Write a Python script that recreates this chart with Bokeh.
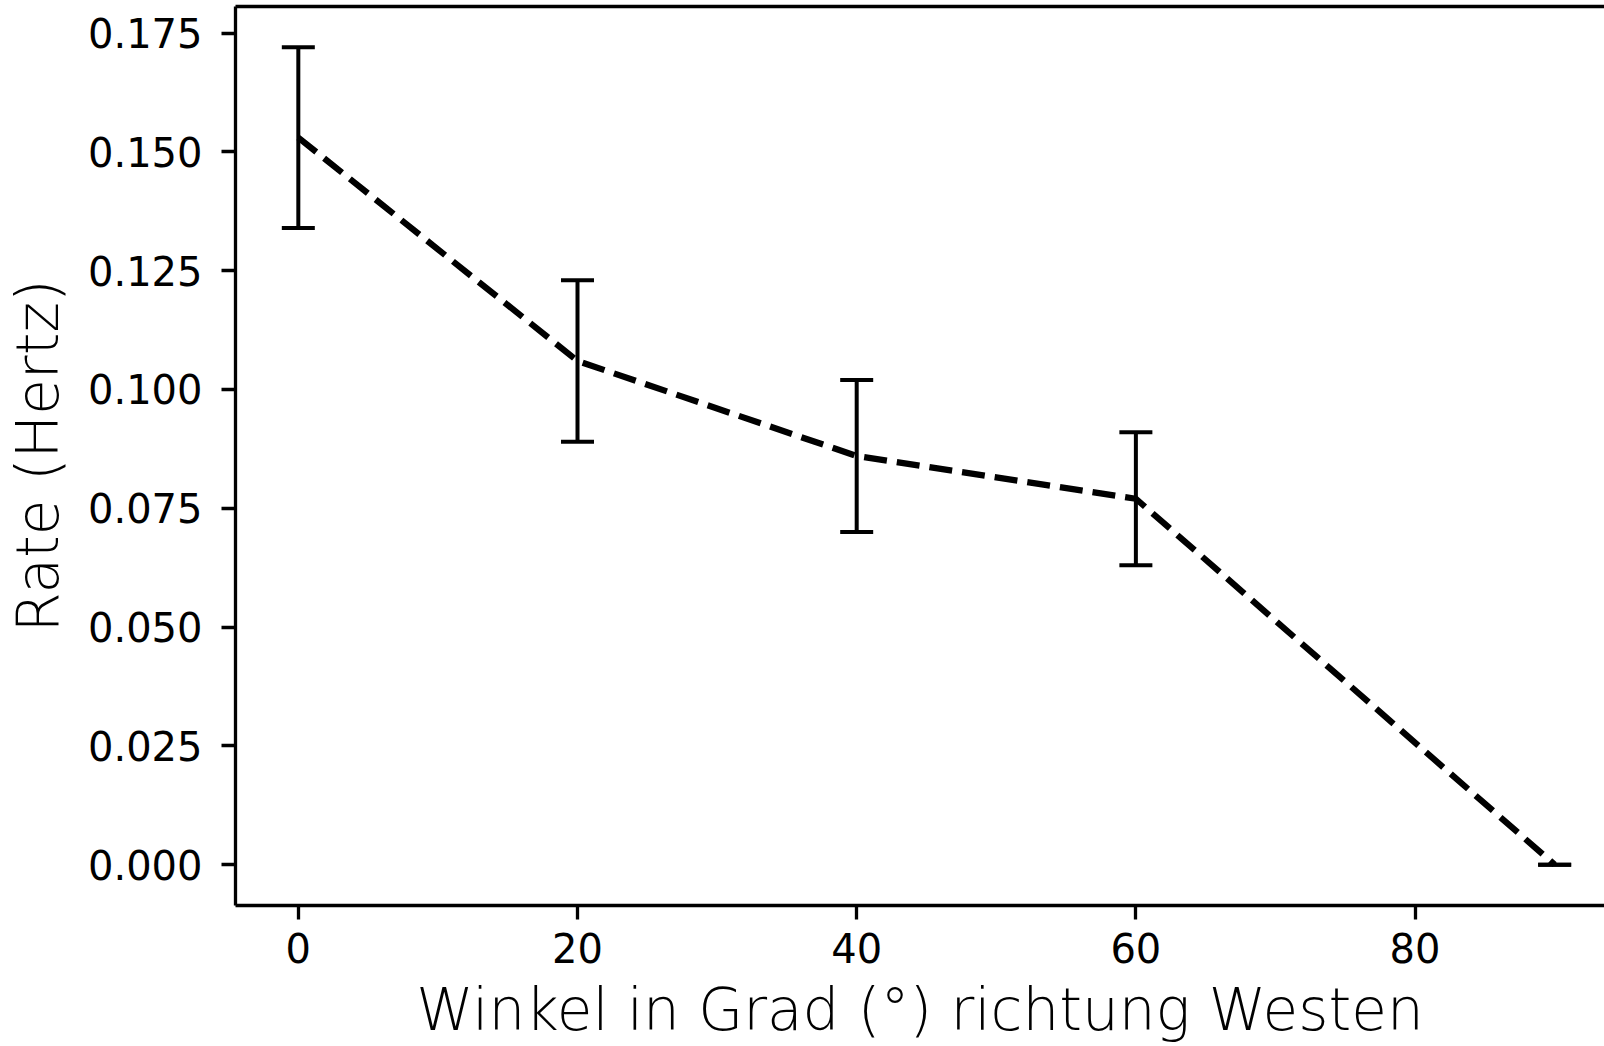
from bokeh.plotting import figure
from bokeh.models import (ColumnDataSource, Whisker, TeeHead, LinearAxis, FixedTicker,
                          NumeralTickFormatter, Range1d)
from bokeh.embed import file_html
from bokeh.resources import INLINE

# ---- data ----
angles = [0, 20, 40, 60, 90]
rates = [0.153, 0.106, 0.086, 0.077, 0.0]
errors = [0.019, 0.017, 0.016, 0.014, 0.0]
x_ticks = [0, 20, 40, 60, 80]
y_ticks = [0.0, 0.025, 0.05, 0.075, 0.1, 0.125, 0.15, 0.175]
x_label = "Winkel in Grad (°) richtung Westen"
y_label = "Rate (Hertz)"

TICK_FONT = "DejaVu Sans"
LABEL_FONT = "DejaVu Sans Light"

src = ColumnDataSource(dict(
    x=angles, y=rates,
    upper=[r + e for r, e in zip(rates, errors)],
    lower=[r - e for r, e in zip(rates, errors)],
))

p = figure(width=1604, height=1046, output_backend="svg", toolbar_location=None,
           x_range=Range1d(-4.5, 93.57), y_range=Range1d(-0.0086, 0.1806),
           min_border_left=235, min_border_right=0, min_border_top=6, min_border_bottom=141,
           background_fill_color="white", border_fill_color="white")
p.outline_line_color = None
p.xgrid.visible = False
p.ygrid.visible = False

# dashed line
p.line("x", "y", source=src, line_color="black", line_width=6.25, line_dash="23 10")

# error bars
w = Whisker(source=src, base="x", upper="upper", lower="lower", dimension="height",
            line_color="black", line_width=4,
            upper_head=TeeHead(size=33, line_color="black", line_width=4),
            lower_head=TeeHead(size=33, line_color="black", line_width=4))
p.add_layout(w)

# axes
for ax in (p.xaxis[0], p.yaxis[0]):
    ax.axis_line_width = 3.3
    ax.axis_line_color = "black"
    ax.major_tick_line_width = 3.3
    ax.major_tick_line_color = "black"
    ax.major_tick_in = 0
    ax.major_tick_out = 14
    ax.minor_tick_line_color = None
    ax.major_label_text_font = TICK_FONT
    ax.major_label_text_font_size = "40px"
    ax.major_label_text_color = "black"
    ax.axis_label_text_font = LABEL_FONT
    ax.axis_label_text_font_size = "58px"
    ax.axis_label_text_font_style = "normal"
    ax.axis_label_text_color = "black"

p.xaxis.ticker = FixedTicker(ticks=x_ticks)
p.xaxis.major_label_standoff = 13
p.xaxis.axis_label = x_label
p.xaxis.axis_label_standoff = 10

p.yaxis.ticker = FixedTicker(ticks=y_ticks)
p.yaxis.formatter = NumeralTickFormatter(format="0.000")
p.yaxis.major_label_standoff = 19
p.yaxis.axis_label = y_label
p.yaxis.axis_label_standoff = 13

# top spine
top = LinearAxis(ticker=FixedTicker(ticks=[]), axis_line_width=3.3, axis_line_color="black",
                 major_tick_in=0, major_tick_out=0, minor_tick_in=0, minor_tick_out=0,
                 major_label_text_font_size="0px")
p.add_layout(top, "above")

open("out.html", "w").write(file_html(p, INLINE))
